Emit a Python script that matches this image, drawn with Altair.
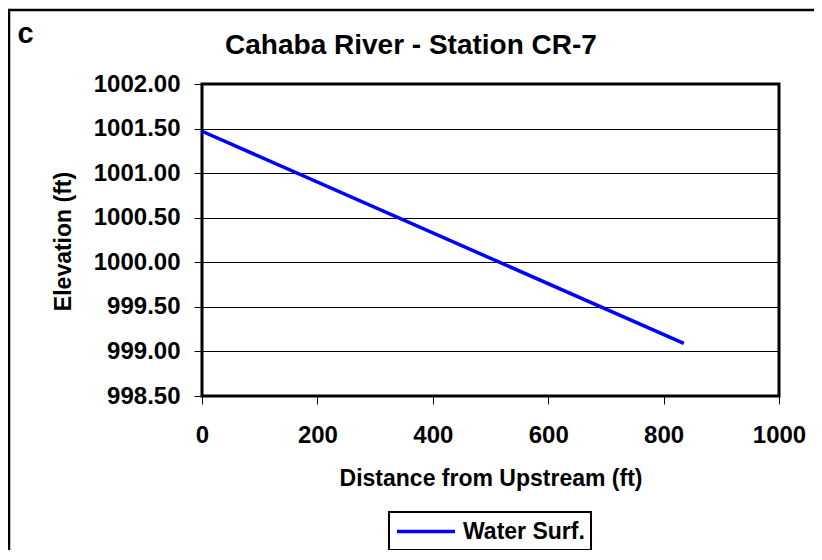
import altair as alt
import pandas as pd

# ---- data ----
distance = [0, 835]
elevation = [1001.47, 999.09]
series = ["Water Surf.", "Water Surf."]
x_ticks = [0, 200, 400, 600, 800, 1000]
y_ticks = [998.5, 999.0, 999.5, 1000.0, 1000.5, 1001.0, 1001.5, 1002.0]
panel_label = ["c"]
chart_title = "Cahaba River - Station CR-7"

df = pd.DataFrame({"distance": distance, "elevation": elevation, "series": series})

FONT = "Liberation Sans"

line = alt.Chart(df).mark_line(strokeWidth=3.5, strokeCap="butt").encode(
    x=alt.X(
        "distance:Q",
        scale=alt.Scale(domain=[0, 1000], nice=False, zero=False),
        axis=alt.Axis(
            values=x_ticks, format="d", title="Distance from Upstream (ft)",
            grid=False, labelBaseline="alphabetic", labelPadding=38.7,
            titleX=288.5, titleY=89, titleBaseline="alphabetic", titleAlign="center",
        ),
    ),
    y=alt.Y(
        "elevation:Q",
        scale=alt.Scale(domain=[998.5, 1002.0], nice=False, zero=False),
        axis=alt.Axis(
            values=y_ticks, format=".2f", title="Elevation (ft)", grid=True,
            labelPadding=14, titleX=-132, titleY=157, titleAngle=270,
            titleBaseline="alphabetic", titleAlign="center",
        ),
    ),
    color=alt.Color(
        "series:N",
        scale=alt.Scale(range=["#0000ff"]),
        legend=alt.Legend(
            title=None, orient="none", legendX=187, legendY=428,
            symbolType="M-1,0H4.04", symbolSize=529, symbolStrokeWidth=3.5,
            labelFontSize=23, labelFont=FONT, labelFontWeight="bold",
            labelColor="black", strokeColor="black", padding=6, labelOffset=41,
        ),
    ),
)

border = alt.Chart(alt.Data(values=[{"a": 1}])).mark_rect(
    fill="transparent", stroke="black", strokeWidth=2.5
).encode(
    x=alt.value(-193), x2=alt.value(900), y=alt.value(-74), y2=alt.value(700)
)

ctext = alt.Chart(alt.Data(values=[{"t": panel_label[0]}])).mark_text(
    font=FONT, fontSize=29, fontWeight="bold", color="black",
    align="center", baseline="alphabetic"
).encode(text="t:N", x=alt.value(-176.5), y=alt.value(-41))

chart = alt.layer(border, line, ctext).properties(
    width=577,
    height=312,
    title=alt.TitleParams(
        chart_title, font=FONT, fontSize=28, fontWeight="bold", color="black",
        anchor="middle", dx=-79.5, offset=-73, baseline="alphabetic", frame="group",
    ),
    autosize=alt.AutoSizeParams(type="none"),
    padding={"left": 194, "top": 76, "right": 35, "bottom": 154},
    background="white",
).configure_view(
    stroke="black", strokeWidth=3
).configure_axis(
    labelFont=FONT, labelFontSize=24, labelFontWeight="bold", labelColor="black",
    titleFont=FONT, titleFontSize=23, titleFontWeight="bold", titleColor="black",
    tickColor="black", tickSize=8, tickWidth=1, domain=False,
    gridColor="black", gridWidth=1, gridOpacity=1,
    labelFlush=False, labelOverlap=False,
).configure_legend(
    strokeWidth=2
)

chart.save("out.html", embed_options={"renderer": "svg", "actions": False})
